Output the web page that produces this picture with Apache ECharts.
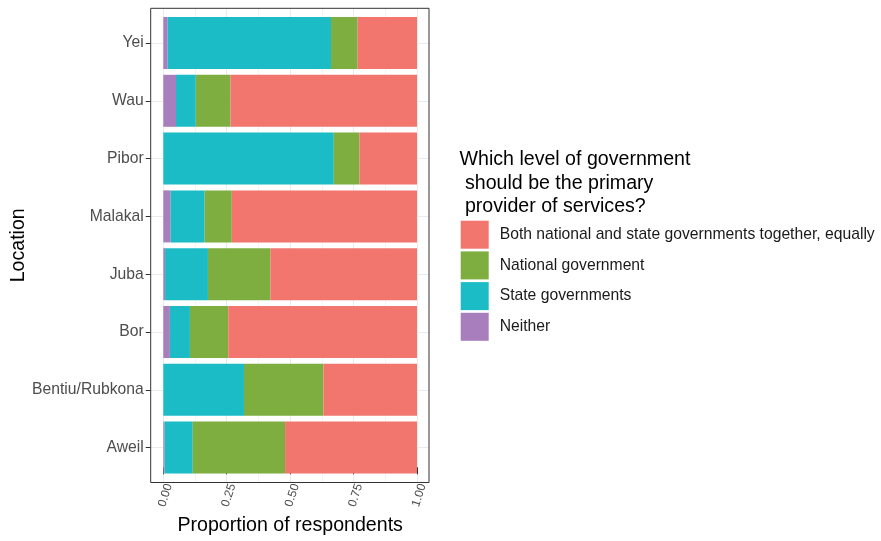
<!DOCTYPE html>
<html>
<head>
<meta charset="utf-8">
<script src="https://cdn.jsdelivr.net/npm/echarts@6/dist/echarts.min.js"></script>
<style>
  html, body { margin: 0; padding: 0; background: #fff; }
  #chart { width: 881px; height: 541px; }
</style>
</head>
<body>
<div id="chart"></div>
<script>
// Locations, bottom to top
const locations = ['Aweil', 'Bentiu/Rubkona', 'Bor', 'Juba', 'Malakal', 'Pibor', 'Wau', 'Yei'];

// Share of respondents per answer (each row sums to 1)
const neither  = [0.005, 0.000, 0.026, 0.007, 0.029, 0.000, 0.050, 0.017];
const stateGov = [0.111, 0.318, 0.079, 0.169, 0.134, 0.672, 0.078, 0.644];
const national = [0.364, 0.313, 0.151, 0.246, 0.107, 0.101, 0.137, 0.105];
const both     = [0.520, 0.369, 0.744, 0.578, 0.730, 0.227, 0.735, 0.234];

const xTicks = [0, 0.25, 0.5, 0.75, 1];

const answerNames = [
  'Both national and state governments together, equally',
  'National government',
  'State governments',
  'Neither'
];
const legendTitle = 'Which level of government\n should be the primary\n provider of services?';

const colors = {
  both: '#F2756E',
  national: '#7DAE3F',
  state: '#1BBCC5',
  neither: '#A87EBC'
};

const FONT = "'Liberation Sans', Arial, Helvetica, sans-serif";

// Panel geometry
const panel = { left: 150.7, top: 8.3, right: 429, bottom: 482.5 };
const dataLeft = 163.3, dataRight = 417;
const bandTop = 14.1, bandBottom = 476.5;
const tickLen = 7;

const chart = echarts.init(document.getElementById('chart'), null, { renderer: 'canvas' });

function barSeries(name, values, color) {
  return {
    name: name,
    type: 'bar',
    stack: 'total',
    xAxisIndex: 1,
    yAxisIndex: 1,
    barWidth: '90%',
    itemStyle: { color: color },
    emphasis: { disabled: true },
    data: values
  };
}

const hiddenValueAxis = (gridIndex) => ({
  gridIndex: gridIndex,
  type: 'value',
  min: 0,
  max: 1,
  show: false,
  axisLine: { show: false, onZero: false },
  axisTick: { show: false },
  axisLabel: { show: false },
  splitLine: { show: false }
});

chart.setOption({
  animation: false,
  textStyle: { fontFamily: FONT },
  title: {
    text: legendTitle,
    left: 459.5,
    top: 148.3,
    padding: 0,
    textStyle: { fontSize: 19.6, fontWeight: 'normal', color: '#000', lineHeight: 23.3, fontFamily: FONT }
  },
  legend: {
    orient: 'vertical',
    left: 460.7,
    top: 220.7,
    padding: 0,
    icon: 'rect',
    itemWidth: 28,
    itemHeight: 28,
    itemGap: 2.7,
    selectedMode: false,
    data: answerNames,
    textStyle: { fontSize: 15.7, color: '#1a1a1a', fontFamily: FONT, padding: [0, 0, 0, 6] }
  },
  grid: [
    { // full panel: vertical grid lines
      left: dataLeft, top: panel.top,
      width: dataRight - dataLeft, height: panel.bottom - panel.top
    },
    { // bar bands
      left: dataLeft, top: bandTop,
      width: dataRight - dataLeft, height: bandBottom - bandTop
    },
    { // x axis ticks and labels, one tick length below the panel
      left: dataLeft, top: panel.top,
      width: dataRight - dataLeft, height: panel.bottom + tickLen - panel.top
    }
  ],
  xAxis: [
    {
      gridIndex: 0,
      type: 'value',
      min: xTicks[0],
      max: xTicks[xTicks.length - 1],
      interval: 0.25,
      axisLine: { show: false, onZero: false },
      axisTick: { show: false },
      axisLabel: { show: false },
      splitLine: { show: true, lineStyle: { color: '#EBEBEB', width: 1 } },
      minorTick: { show: false, splitNumber: 2 },
      minorSplitLine: { show: true, lineStyle: { color: '#F4F4F4', width: 1 } }
    },
    hiddenValueAxis(1),
    {
      gridIndex: 2,
      type: 'value',
      min: xTicks[0],
      max: xTicks[xTicks.length - 1],
      interval: 0.25,
      name: 'Proportion of respondents',
      nameLocation: 'middle',
      nameGap: 15,
      nameTextStyle: { fontSize: 19.6, color: '#000', fontFamily: FONT },
      axisLine: { show: false, onZero: false },
      axisTick: { show: true, inside: true, length: tickLen, lineStyle: { color: '#333', width: 1 } },
      axisLabel: {
        rotate: 72,
        margin: 8,
        verticalAlign: 'top',
        fontSize: 12,
        color: '#4D4D4D',
        formatter: v => v.toFixed(2)
      },
      splitLine: { show: false }
    }
  ],
  yAxis: [
    hiddenValueAxis(0),
    { // location labels and outer ticks
      gridIndex: 1,
      type: 'category',
      position: 'left',
      offset: dataLeft - panel.left,
      data: locations,
      name: 'Location',
      nameLocation: 'middle',
      nameGap: 122,
      nameTextStyle: { fontSize: 19.6, color: '#000', fontFamily: FONT },
      axisLine: { show: false, onZero: false },
      axisTick: { show: true, alignWithLabel: true, length: 5, lineStyle: { color: '#333', width: 1 } },
      axisLabel: { margin: 7, fontSize: 15.7, color: '#4D4D4D' },
      splitLine: { show: false }
    },
    { // horizontal grid lines through the category centres
      gridIndex: 1,
      type: 'category',
      position: 'right',
      offset: panel.right - dataRight,
      data: locations,
      axisLine: { show: false, onZero: false },
      axisLabel: { show: false },
      axisTick: {
        show: true,
        inside: true,
        alignWithLabel: true,
        length: panel.right - panel.left,
        lineStyle: { color: '#EBEBEB', width: 1 }
      },
      splitLine: { show: false }
    },
    hiddenValueAxis(2)
  ],
  graphic: [
    {
      type: 'rect',
      silent: true,
      z: 100,
      shape: {
        x: panel.left,
        y: panel.top,
        width: panel.right - panel.left,
        height: panel.bottom - panel.top
      },
      style: { fill: null, stroke: '#333', lineWidth: 1 }
    }
  ],
  series: [
    barSeries(answerNames[3], neither, colors.neither),
    barSeries(answerNames[2], stateGov, colors.state),
    barSeries(answerNames[1], national, colors.national),
    barSeries(answerNames[0], both, colors.both)
  ]
});
</script>
</body>
</html>
